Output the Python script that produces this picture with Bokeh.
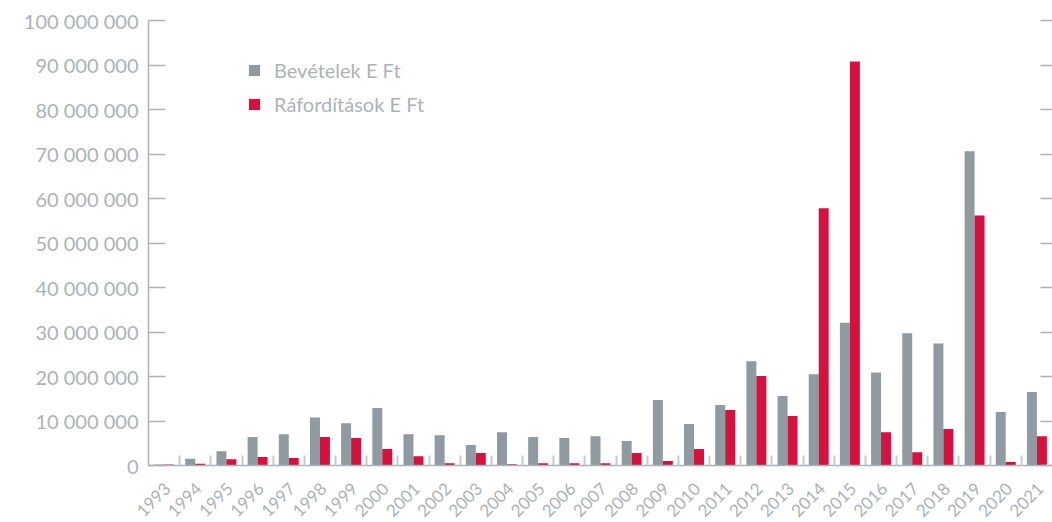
import math
from bokeh.plotting import figure
from bokeh.models import (ColumnDataSource, Range1d, FixedTicker, LinearAxis,
                          CustomJSTickFormatter, Legend, LegendItem)
from bokeh.transform import dodge
from bokeh.embed import file_html
from bokeh.resources import INLINE

years = [str(y) for y in range(1993, 2022)]
bevetelek = [0.2e6, 1.5e6, 3.2e6, 6.4e6, 7.0e6, 10.8e6, 9.5e6, 12.9e6, 7.0e6, 6.8e6,
             4.6e6, 7.5e6, 6.4e6, 6.2e6, 6.6e6, 5.5e6, 14.7e6, 9.3e6, 13.6e6, 23.4e6,
             15.6e6, 20.5e6, 32.1e6, 20.9e6, 29.7e6, 27.4e6, 70.6e6, 12.0e6, 16.5e6]
raforditasok = [0.2e6, 0.4e6, 1.4e6, 1.9e6, 1.7e6, 6.4e6, 6.2e6, 3.7e6, 2.1e6, 0.5e6,
                2.8e6, 0.3e6, 0.5e6, 0.5e6, 0.5e6, 2.8e6, 1.0e6, 3.7e6, 12.5e6, 20.1e6,
                11.1e6, 57.8e6, 90.8e6, 7.5e6, 3.0e6, 8.2e6, 56.2e6, 0.8e6, 6.6e6]
y_ticks = [i * 10_000_000 for i in range(11)]
series_names = ["Bevételek E Ft", "Ráfordítások E Ft"]

GRAY = "#8f9aa1"
RED = "#d5113e"
AXIS = "#aab2b7"
TEXT = "#abb3b8"
FONT = "Lato"

n = len(years)
centers = [i + 0.5 for i in range(n)]
bounds = [float(i) for i in range(1, n)]
label_pos = [c + 0.1 for c in centers]

src = ColumnDataSource(dict(x=centers, year=years, bev=bevetelek, raf=raforditasok))

p = figure(frame_width=904, frame_height=445, output_backend="svg", toolbar_location=None,
           x_range=Range1d(0, n), y_range=Range1d(0, 100_000_000),
           min_border_left=148, min_border_right=0, min_border_top=20,
           min_border_bottom=57)
p.outline_line_color = None
p.xgrid.visible = False
p.ygrid.visible = False
p.background_fill_color = "white"

r1 = p.vbar(x=dodge("x", -0.16, range=p.x_range), top="bev", width=0.32, source=src,
            fill_color=GRAY, line_color=None)
r2 = p.vbar(x=dodge("x", 0.16, range=p.x_range), top="raf", width=0.32, source=src,
            fill_color=RED, line_color=None)

# x axis
xa = p.xaxis[0]
xa.ticker = FixedTicker(ticks=label_pos, minor_ticks=bounds)
xa.formatter = CustomJSTickFormatter(args=dict(years=years),
                                     code="return years[Math.floor(tick)] || '';")
xa.major_tick_line_color = None
xa.minor_tick_in = 10
xa.minor_tick_out = 0
xa.minor_tick_line_color = "#c5cbcf"
xa.minor_tick_line_width = 2
xa.axis_line_color = AXIS
xa.axis_line_width = 1.5
xa.major_label_orientation = math.pi / 4
xa.major_label_text_font = FONT
xa.major_label_text_font_size = "17px"
xa.major_label_text_color = TEXT
xa.major_label_standoff = 14

# y axis
ya = p.yaxis[0]
ya.ticker = FixedTicker(ticks=y_ticks)
ya.formatter = CustomJSTickFormatter(
    code="return tick.toFixed(0).replace(/\\B(?=(\\d{3})+(?!\\d))/g, ' ');")
ya.major_tick_in = 17
ya.major_tick_out = 0
ya.major_tick_line_color = AXIS
ya.major_tick_line_width = 1.5
ya.minor_tick_line_color = None
ya.axis_line_color = AXIS
ya.axis_line_width = 1.5
ya.major_label_text_font = FONT
ya.major_label_text_font_size = "20px"
ya.major_label_text_color = TEXT
ya.major_label_standoff = 10

# right ticks
ra = LinearAxis(ticker=FixedTicker(ticks=y_ticks),
                formatter=CustomJSTickFormatter(code="return '';"),
                major_tick_in=12, major_tick_out=0, major_tick_line_color=AXIS,
                major_tick_line_width=1.5, minor_tick_line_color=None,
                axis_line_color=None, major_label_standoff=0,
                major_label_text_font_size="1px")
p.add_layout(ra, "right")

legend = Legend(items=[LegendItem(label=series_names[0], renderers=[r1]),
                       LegendItem(label=series_names[1], renderers=[r2])],
                location=(99, 349), orientation="vertical",
                glyph_width=14, glyph_height=14, label_height=20, spacing=10,
                label_standoff=13, padding=0, margin=0,
                border_line_color=None, background_fill_alpha=0,
                label_text_font=FONT, label_text_font_size="20px",
                label_text_color=TEXT)
p.add_layout(legend, "center")

open("out.html", "w").write(file_html(p, INLINE))
